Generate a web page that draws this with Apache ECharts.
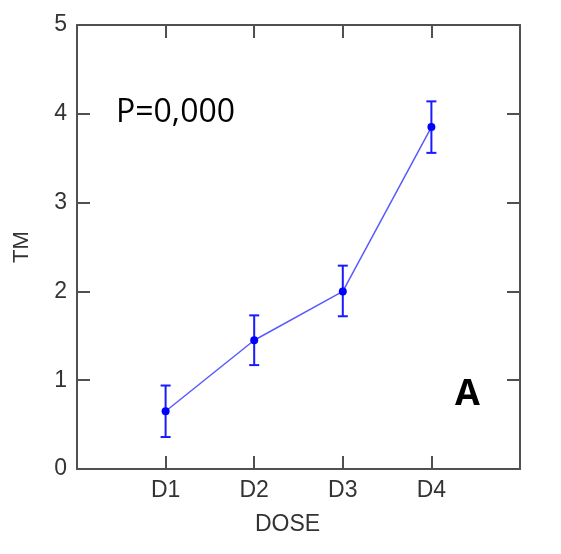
<!DOCTYPE html>
<html>
<head>
<meta charset="utf-8">
<script src="https://cdn.jsdelivr.net/npm/echarts@6/dist/echarts.min.js"></script>
<style>
  html, body { margin: 0; padding: 0; background: #fff; }
  #chart { width: 561px; height: 554px; }
</style>
</head>
<body>
<div id="chart"></div>
<script>
// dose groups and their mean TM with error bar limits
var categories = ["D1", "D2", "D3", "D4"];
var means = [0.65, 1.45, 2.0, 3.85];
var lower = [0.36, 1.17, 1.72, 3.56];
var upper = [0.94, 1.73, 2.29, 4.14];
var yTicks = [0, 1, 2, 3, 4, 5];

var axisColor = "#505050";
var labelColor = "#333";
var font = "Liberation Sans";

var myChart = echarts.init(document.getElementById("chart"));

var lineData = means.map(function (m, i) { return [i + 1, m]; });
var errData = means.map(function (m, i) { return [i + 1, lower[i], upper[i]]; });

function frameAxis(pos, isX) {
    return {
        type: "value",
        position: pos,
        min: isX ? 0 : yTicks[0],
        max: isX ? categories.length + 1 : yTicks[yTicks.length - 1],
        interval: 1,
        axisLine: { show: true, onZero: false, lineStyle: { color: axisColor, width: 2 } },
        axisTick: { show: true, inside: true, length: 13, lineStyle: { color: axisColor, width: 2 } },
        axisLabel: { show: false },
        splitLine: { show: false }
    };
}

var xMain = frameAxis("bottom", true);
xMain.name = "DOSE";
xMain.nameLocation = "middle";
xMain.nameGap = 44;
xMain.nameTextStyle = { color: labelColor, fontSize: 23, fontFamily: font, padding: [0, 22, 0, 0] };
xMain.axisLabel = {
    show: true, margin: 10, color: labelColor, fontSize: 23, fontFamily: font,
    formatter: function (v) { return categories[v - 1] || ""; }
};

var yMain = frameAxis("left", false);
yMain.name = "TM";
yMain.nameLocation = "middle";
yMain.nameGap = 44;
yMain.nameTextStyle = { color: labelColor, fontSize: 22, fontFamily: font };
yMain.axisLabel = { show: true, margin: 10, color: labelColor, fontSize: 23, fontFamily: font };

var option = {
    animation: false,
    grid: { left: 77, right: 41, top: 25, bottom: 85, outerBoundsMode: "none", containLabel: false },
    xAxis: [xMain, frameAxis("top", true)],
    yAxis: [yMain, frameAxis("right", false)],
    graphic: [
        { type: "text", left: 116, top: 97, style: { text: "P=0,000", fill: "#000", fontSize: 32, fontFamily: "Open Sans" } },
        { type: "text", left: 455, top: 377, style: { text: "A", fill: "#000", fontSize: 36, fontWeight: "bold", fontFamily: "Open Sans" } }
    ],
    series: [
        {
            type: "line",
            data: lineData,
            symbol: "circle",
            symbolSize: 8,
            itemStyle: { color: "#0000ff" },
            lineStyle: { color: "#5a5aff", width: 1.5 },
            z: 3
        },
        {
            type: "custom",
            data: errData,
            renderItem: function (params, api) {
                var x = api.value(0);
                var lo = api.coord([x, api.value(1)]);
                var hi = api.coord([x, api.value(2)]);
                var hw = 5;
                var st = { stroke: "#1a1aff", lineWidth: 2 };
                return {
                    type: "group",
                    children: [
                        { type: "line", shape: { x1: lo[0], y1: lo[1], x2: hi[0], y2: hi[1] }, style: st },
                        { type: "line", shape: { x1: lo[0] - hw, y1: lo[1], x2: lo[0] + hw, y2: lo[1] }, style: st },
                        { type: "line", shape: { x1: hi[0] - hw, y1: hi[1], x2: hi[0] + hw, y2: hi[1] }, style: st }
                    ]
                };
            },
            z: 2
        }
    ]
};

myChart.setOption(option);
</script>
</body>
</html>
